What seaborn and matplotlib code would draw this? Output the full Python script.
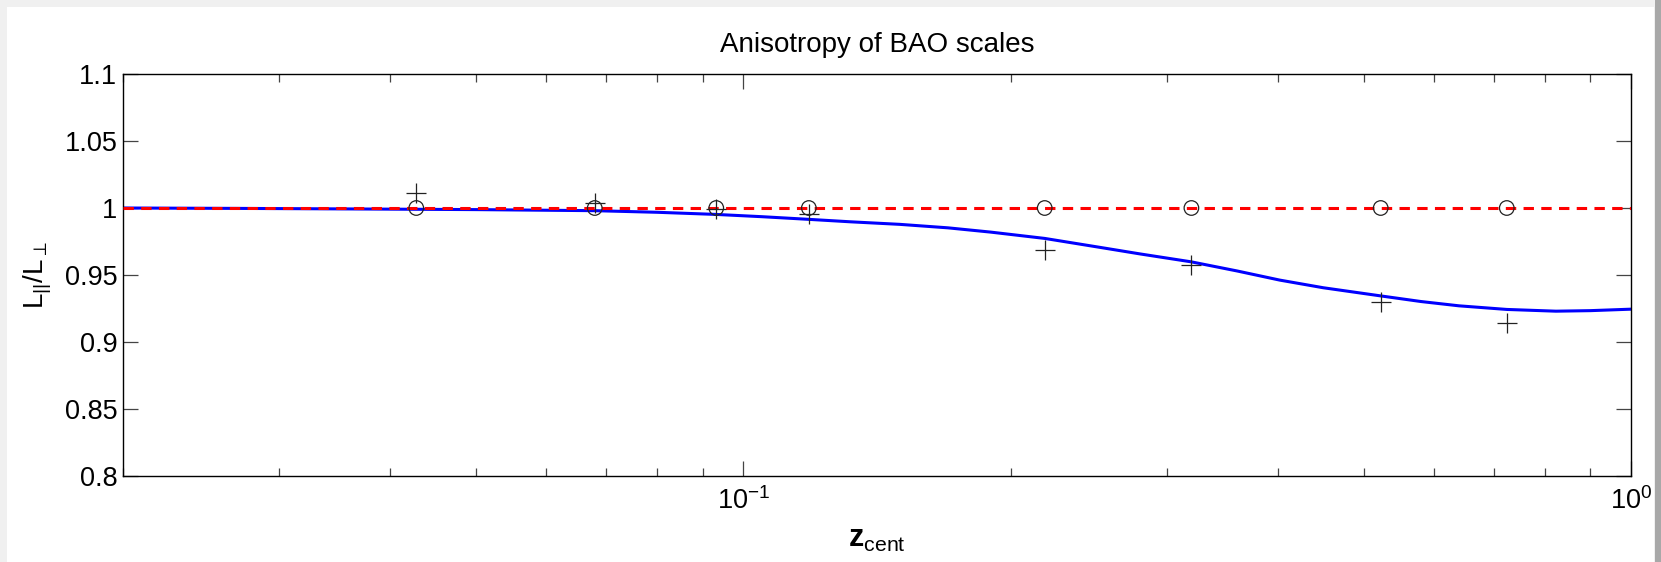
import numpy as np
import pandas as pd
import matplotlib
matplotlib.use('Agg')
import matplotlib.pyplot as plt
import seaborn as sns
from matplotlib.patches import Rectangle
from matplotlib.ticker import FixedLocator, LogLocator, NullFormatter, FixedFormatter

# ---- data ----
z_points = [0.0428, 0.068, 0.0932, 0.1185, 0.2185, 0.3197, 0.5224, 0.7245]
ratio_isotropic = [1.0, 1.0, 1.0, 1.0, 1.0, 1.0, 1.0, 1.0]          # open circles
ratio_measured = [1.0109, 1.0039, 0.9992, 0.9952, 0.9686, 0.9574, 0.9300, 0.9143]  # plus signs

curve_z = [0.02, 0.027, 0.0361, 0.05, 0.068, 0.08, 0.0932, 0.105, 0.1187, 0.132, 0.15,
           0.17, 0.19, 0.2185, 0.2523, 0.28, 0.3197, 0.36, 0.402, 0.45, 0.5224, 0.58,
           0.64, 0.7245, 0.823, 0.9, 1.0]
curve_ratio = [1.0, 0.9997, 0.9993, 0.9988, 0.998, 0.9968, 0.9952, 0.9935, 0.9915, 0.9897, 0.9878,
               0.9852, 0.9820, 0.9773, 0.9706, 0.9657, 0.9598, 0.9530, 0.9462, 0.9405, 0.9344, 0.9302,
               0.9270, 0.9243, 0.9230, 0.9234, 0.9245]

ref_z = [0.02, 1.0]
ref_ratio = [1.0, 1.0]

ytick_values = [0.8, 0.85, 0.9, 0.95, 1.0, 1.05, 1.1]
ytick_labels = ['0.8', '0.85', '0.9', '0.95', '1', '1.05', '1.1']
xtick_values = [0.1, 1.0]
xtick_labels = ['$10^{-1}$', '$10^{0}$']

title = 'Anisotropy of BAO scales'
xlabel = '$\\mathbf{z}_{\\mathrm{cent}}$'
ylabel = 'L$_{||}$/L$_{\\perp}$'

# ---- style ----
sns.set_theme(style='white')
plt.rcParams['font.family'] = ['Liberation Sans', 'DejaVu Sans']
plt.rcParams['mathtext.fontset'] = 'custom'
plt.rcParams['mathtext.rm'] = 'Liberation Sans'
plt.rcParams['mathtext.it'] = 'Liberation Sans:italic'
plt.rcParams['mathtext.bf'] = 'Liberation Sans:bold'

W, H = 1661, 562
fig = plt.figure(figsize=(W / 100, H / 100), dpi=100, facecolor='#f0f0f0')
fig.patches.append(Rectangle((7 / W, 0), (1654 - 7) / W, 555 / H, transform=fig.transFigure,
                             facecolor='white', edgecolor='none', zorder=-10))
fig.patches.append(Rectangle((1655 / W, 0), 6 / W, 1, transform=fig.transFigure,
                             facecolor='#a8a8a8', edgecolor='none', zorder=-10))

ax = fig.add_axes([123 / W, 1 - 476 / H, (1631 - 123) / W, (476 - 74) / H])
ax.set_facecolor('white')

curve_df = pd.DataFrame({'z': curve_z, 'ratio': curve_ratio})
ref_df = pd.DataFrame({'z': ref_z, 'ratio': ref_ratio})

sns.lineplot(data=curve_df, x='z', y='ratio', ax=ax, color='#0000ff', linewidth=2.2,
             estimator=None, sort=False, zorder=2)
sns.lineplot(data=ref_df, x='z', y='ratio', ax=ax, color='#ff0000', linewidth=2.2,
             estimator=None, sort=False, zorder=3)
ax.lines[-1].set_dashes((3.4, 2.4))

sns.scatterplot(x=z_points, y=ratio_measured, ax=ax, marker='+', s=200, color='#222222',
                linewidth=0.9, zorder=5)
sns.scatterplot(x=z_points, y=ratio_isotropic, ax=ax, marker='o', s=110,
                facecolor='none', edgecolor='#222222', linewidth=0.9, zorder=5)
ax.collections[-1].set_facecolor('none')
ax.collections[-1].set_edgecolor('#222222')

ax.set_xscale('log')
ax.set_xlim(0.02, 1.0)
ax.set_ylim(0.8, 1.1)

ax.xaxis.set_major_locator(FixedLocator(xtick_values))
ax.xaxis.set_major_formatter(FixedFormatter(xtick_labels))
ax.xaxis.set_minor_locator(LogLocator(base=10, subs=np.arange(2, 10)))
ax.xaxis.set_minor_formatter(NullFormatter())
ax.yaxis.set_major_locator(FixedLocator(ytick_values))
ax.yaxis.set_major_formatter(FixedFormatter(ytick_labels))

ax.tick_params(axis='both', which='both', direction='in', top=True, right=True,
               bottom=True, left=True, color='#444444', width=0.9)
ax.tick_params(axis='both', which='major', length=10.5, labelsize=19.5, labelcolor='black')
ax.tick_params(axis='both', which='minor', length=5.5)
ax.tick_params(axis='y', which='major', pad=4)
ax.tick_params(axis='x', which='major', pad=8)

for s in ax.spines.values():
    s.set_visible(True)
    s.set_color('black')
    s.set_linewidth(1.0)

ax.set_title(title, fontsize=20, pad=16, color='black')
ax.set_xlabel(xlabel, fontsize=22, color='black')
ax.set_ylabel(ylabel, fontsize=20, color='black')
ax.xaxis.set_label_coords(0.5, -0.12)
ax.xaxis.label.set_va('top')
ax.yaxis.set_label_coords(-0.046, 0.5)

fig.savefig('out.png', dpi=100, facecolor=fig.get_facecolor())
